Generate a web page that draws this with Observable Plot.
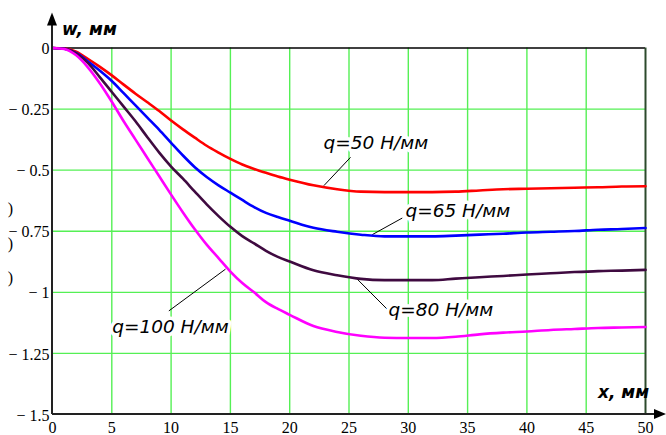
<!DOCTYPE html>
<html>
<head>
<meta charset="utf-8">
<script src="https://cdn.jsdelivr.net/npm/d3@7"></script>
<script src="https://cdn.jsdelivr.net/npm/@observablehq/plot@0.6"></script>
<style>
  html, body { margin: 0; padding: 0; background: white; }
  #chart svg { display: block; }
</style>
</head>
<body>
<div id="chart"></div>
<script>
// ---- data ----
const xs = [0,1,2,3,4,5,6,7,8,9,10,11,12,13,14,15,16,17,18,19,20,22,24,26,28,30,32,34,36,38,40,42,44,46,48,50];
const w50 = [0,-0.002,-0.015,-0.045,-0.077,-0.112,-0.150,-0.187,-0.222,-0.258,-0.297,
  -0.333,-0.367,-0.400,-0.428,-0.454,-0.477,-0.495,-0.511,-0.526,-0.539,
  -0.562,-0.578,-0.588,-0.590,-0.590,-0.590,-0.588,-0.583,-0.578,-0.576,-0.574,-0.572,-0.570,-0.567,-0.566];
const w65 = [0,-0.003,-0.020,-0.055,-0.093,-0.135,-0.185,-0.235,-0.285,-0.335,-0.388,
  -0.440,-0.488,-0.528,-0.562,-0.592,-0.622,-0.651,-0.675,-0.692,-0.707,
  -0.736,-0.752,-0.764,-0.771,-0.771,-0.771,-0.768,-0.764,-0.760,-0.755,-0.752,-0.749,-0.744,-0.741,-0.737];
const w80 = [0,-0.003,-0.022,-0.062,-0.120,-0.180,-0.240,-0.300,-0.365,-0.428,-0.485,
  -0.535,-0.588,-0.640,-0.688,-0.732,-0.770,-0.800,-0.830,-0.855,-0.874,
  -0.910,-0.930,-0.945,-0.950,-0.950,-0.950,-0.944,-0.938,-0.933,-0.927,-0.922,-0.917,-0.913,-0.911,-0.908];
const w100 = [0,-0.004,-0.030,-0.080,-0.145,-0.220,-0.300,-0.375,-0.450,-0.525,-0.600,
  -0.673,-0.742,-0.805,-0.860,-0.915,-0.962,-1.000,-1.040,-1.068,-1.092,
  -1.138,-1.162,-1.178,-1.186,-1.187,-1.187,-1.182,-1.172,-1.165,-1.160,-1.154,-1.150,-1.146,-1.144,-1.142];

const seriesNames = ["q=50 Н/мм", "q=65 Н/мм", "q=80 Н/мм", "q=100 Н/мм"];
const seriesColors = ["#ff0000", "#0000ff", "#3f0a40", "#ff00ff"];
const seriesValues = [w50, w65, w80, w100];

// label anchors (data units) and leader lines
const labelX = [22.85, 29.76, 28.33, 5.03];
const labelY = [-0.388, -0.668, -1.071, -1.144];
const leadX1 = [25.13, 29.49, 25.55, 9.81];
const leadY1 = [-0.4475, -0.696, -0.939, -1.076];
const leadX2 = [22.88, 26.96, 28.36, 14.59];
const leadY2 = [-0.5635, -0.764, -1.076, -0.905];

const xTicks = [0,5,10,15,20,25,30,35,40,45,50];
const yTicks = [0,-0.25,-0.5,-0.75,-1,-1.25,-1.5];
const xGrid = [5,10,15,20,25,30,35,40,45];
const yGrid = [-0.25,-0.5,-0.75,-1,-1.25];

const yAxisTitle = "w, мм";
const xAxisTitle = "x, мм";
const strayY = [-0.658, -0.801, -0.941];

// ---- build tables ----
const rows = [];
seriesValues.forEach((vals, i) => vals.forEach((v, j) => rows.push({x: xs[j], w: v, s: seriesNames[i]})));
const labels = seriesNames.map((s, i) => ({s, x: labelX[i], y: labelY[i]}));
const leaders = seriesNames.map((s, i) => ({x1: leadX1[i], y1: leadY1[i], x2: leadX2[i], y2: leadY2[i]}));

const fmtY = d => d === 0 ? "0" : "\u2212 " + String(-d);
const SERIF = "Liberation Serif";
const SANS = "DejaVu Sans";

const chart = Plot.plot({
  width: 666,
  height: 435,
  marginLeft: 52,
  marginRight: 21,
  marginTop: 47.5,
  marginBottom: 21,
  x: {domain: [0, 50], axis: null},
  y: {domain: [-1.5, 0], axis: null},
  color: {domain: seriesNames, range: seriesColors},
  style: {background: "white", overflow: "visible"},
  marks: [
    Plot.gridX(xGrid, {stroke: "#55f055", strokeOpacity: 1, strokeWidth: 1.4}),
    Plot.gridY(yGrid, {stroke: "#55f055", strokeOpacity: 1, strokeWidth: 1.4}),
    Plot.ruleY([0], {stroke: "black", strokeWidth: 1.5}),
    Plot.ruleX([50], {stroke: "#2c4a2c", strokeWidth: 2}),
    // tick labels
    Plot.text(xTicks, {x: d => d, y: () => -1.5, text: d => String(d), lineAnchor: "top", dy: 7,
      fontFamily: SERIF, fontSize: 16, fill: "black"}),
    Plot.text(yTicks, {x: () => 0, y: d => d, text: fmtY, textAnchor: "end", dx: -3, dy: 1,
      fontFamily: SERIF, fontSize: 16, fill: "black"}),
    Plot.text(strayY, {x: () => -3.55, y: d => d, text: () => ")", fontSize: 16, fontFamily: SERIF}),
    Plot.link(leaders, {x1: "x1", y1: "y1", x2: "x2", y2: "y2", stroke: "black", strokeWidth: 1}),
    Plot.line(rows, {x: "x", y: "w", z: "s", stroke: "s", strokeWidth: 2.6, curve: "monotone-x"}),
    Plot.text(labels, {x: "x", y: "y", text: "s", textAnchor: "start", lineAnchor: "middle",
      fontFamily: SANS, fontStyle: "oblique", fontSize: 18.5,
      fill: "black", stroke: "white", strokeWidth: 7})
  ]
});

document.getElementById("chart").appendChild(chart);

// axis lines with arrowheads and axis titles (decorations positioned via the scales)
const sx = chart.scale("x"), sy = chart.scale("y");
const svg = d3.select(chart);
const X0 = sx.apply(0), X50 = sx.apply(50), Y0 = sy.apply(0), Yb = sy.apply(-1.5);
const g = svg.append("g");
g.append("line").attr("x1", X0).attr("x2", X0).attr("y1", Yb).attr("y2", Y0 - 30)
  .attr("stroke", "#222").attr("stroke-width", 2);
g.append("path").attr("d", `M${X0},${Y0 - 35}L${X0 - 5},${Y0 - 22}L${X0 + 5},${Y0 - 22}Z`).attr("fill", "black");
g.append("line").attr("x1", X0).attr("x2", X50 + 14).attr("y1", Yb).attr("y2", Yb)
  .attr("stroke", "#222").attr("stroke-width", 2);
g.append("path").attr("d", `M${X50 + 21},${Yb}L${X50 + 9},${Yb - 5}L${X50 + 9},${Yb + 5}Z`).attr("fill", "black");
g.append("text").attr("x", X0 + 10).attr("y", Y0 - 12.5).text(yAxisTitle).attr("text-anchor", "start")
  .attr("font-family", SANS).attr("font-style", "oblique").attr("font-weight", "bold").attr("font-size", 17);
g.append("text").attr("x", sx.apply(46.04)).attr("y", Yb - 16).text(xAxisTitle).attr("text-anchor", "start")
  .attr("font-family", SANS).attr("font-style", "oblique").attr("font-weight", "bold").attr("font-size", 17);
</script>
</body>
</html>
